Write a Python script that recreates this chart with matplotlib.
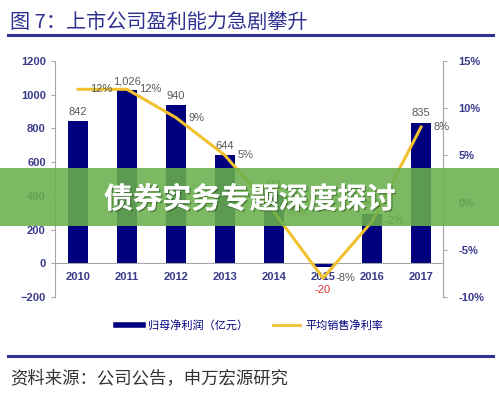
"""
Listed-company profitability chart: net profit bars with net-margin line.
"""

import matplotlib.pyplot as plt
import matplotlib.patheffects as pe
from matplotlib.lines import Line2D
from matplotlib.patches import Rectangle

plt.rcParams["font.family"] = ["Liberation Sans", "Noto Sans CJK SC", "DejaVu Sans"]

years = ["2010", "2011", "2012", "2013", "2014", "2015", "2016", "2017"]
net_profit = [842, 1026, 940, 644, 411, -20, 290, 835]
net_margin = [12, 12, 9, 5, -1, -8, -2, 8]

title_text = "图 7：上市公司盈利能力急剧攀升"
source_text = "资料来源：公司公告，申万宏源研究"
banner_text = "债券实务专题深度探讨"
bar_label = "归母净利润（亿元）"
line_label = "平均销售净利率"

NAVY = "#00007F"
GOLD = "#F2C12E"
AXIS_GRAY = "#A6A6A6"
TICK_BLUE = "#3A3A8C"
LABEL_GRAY = "#595959"
CJK = ["Noto Sans CJK SC", "DejaVu Sans"]

fig = plt.figure(figsize=(4.99, 3.96), dpi=100)
ax = fig.add_axes([0.110, 0.25, 0.778, 0.596])
ax2 = ax.twinx()

x = range(len(years))
ax.bar(x, net_profit, width=0.41, color=NAVY, zorder=2)
ax.set_ylim(-200, 1200)
ax.set_yticks(range(-200, 1201, 200))
ax.set_xlim(-0.47, 7.45)
ax.set_xticks(list(x))
ax.set_xticklabels(years)

for spine in ["top", "right"]:
    ax.spines[spine].set_visible(False)
ax.spines["left"].set_color(AXIS_GRAY)
ax.spines["bottom"].set_position(("data", 0))
ax.spines["bottom"].set_color(AXIS_GRAY)
ax.tick_params(axis="y", colors=AXIS_GRAY, labelcolor=TICK_BLUE,
               labelsize=8, length=3)
ax.tick_params(axis="x", length=0, labelcolor=TICK_BLUE, labelsize=8, pad=6)
for lab in ax.get_xticklabels() + ax.get_yticklabels():
    lab.set_fontweight("bold")

for i, v in enumerate(net_profit):
    if v < 0:
        ax.text(i, -160, f"{v:,}", ha="center", va="center",
                color="#E03030", fontsize=8)
    else:
        ax.text(i, v + 25, f"{v:,}", ha="center", va="bottom",
                color=LABEL_GRAY, fontsize=8)

ax2.plot(x, net_margin, color=GOLD, linewidth=2.2, zorder=3)
ax2.set_ylim(-10, 15)
ax2.set_yticks(range(-10, 16, 5))
ax2.set_yticklabels([f"{t}%" for t in range(-10, 16, 5)])
for spine in ["top", "left", "bottom"]:
    ax2.spines[spine].set_visible(False)
ax2.spines["right"].set_color(AXIS_GRAY)
ax2.tick_params(axis="y", colors=AXIS_GRAY, labelcolor=TICK_BLUE,
                labelsize=8, length=3, pad=8)
for lab in ax2.get_yticklabels():
    lab.set_fontweight("bold")

for i, v in enumerate(net_margin):
    ax2.annotate(f"{v}%", (i, v), xytext=(9, 0), textcoords="offset points",
                 ha="left", va="center", color=LABEL_GRAY, fontsize=8)

# header and footer
fig.text(0.02, 0.943, title_text, family=CJK, fontsize=14.5,
         color="#2E3192", va="center")
fig.add_artist(Line2D([0.016, 0.988], [0.912, 0.912], color="#2E3192",
                      linewidth=2.2, transform=fig.transFigure))
fig.add_artist(Line2D([0.016, 0.988], [0.101, 0.101], color="#2E3192",
                      linewidth=2.2, transform=fig.transFigure))
fig.text(0.02, 0.046, source_text, family=CJK, fontsize=12.5,
         color="#333333", va="center")

handles = [Line2D([], [], color=NAVY, linewidth=4),
           Line2D([], [], color=GOLD, linewidth=2)]
leg = fig.legend(handles, [bar_label, line_label], loc="center",
                 bbox_to_anchor=(0.5, 0.178), ncol=2, frameon=False,
                 handlelength=2.4, columnspacing=2.2, handletextpad=0.5,
                 prop={"family": CJK, "size": 8})
for t in leg.get_texts():
    t.set_color(NAVY)

# overlay banner
fig.add_artist(Rectangle((0, 0.429), 1, 0.146, transform=fig.transFigure,
                         facecolor="#6AB04C", alpha=0.88, edgecolor="none",
                         zorder=10))
fig.text(0.5, 0.497, banner_text, family=CJK, fontsize=21, fontweight="bold",
         color="white", ha="center", va="center", zorder=11,
         path_effects=[pe.withSimplePatchShadow(offset=(1, -1),
                                                shadow_rgbFace="#2F5A1F",
                                                alpha=0.6), pe.Normal()])

fig.savefig("out.png", dpi=100)
